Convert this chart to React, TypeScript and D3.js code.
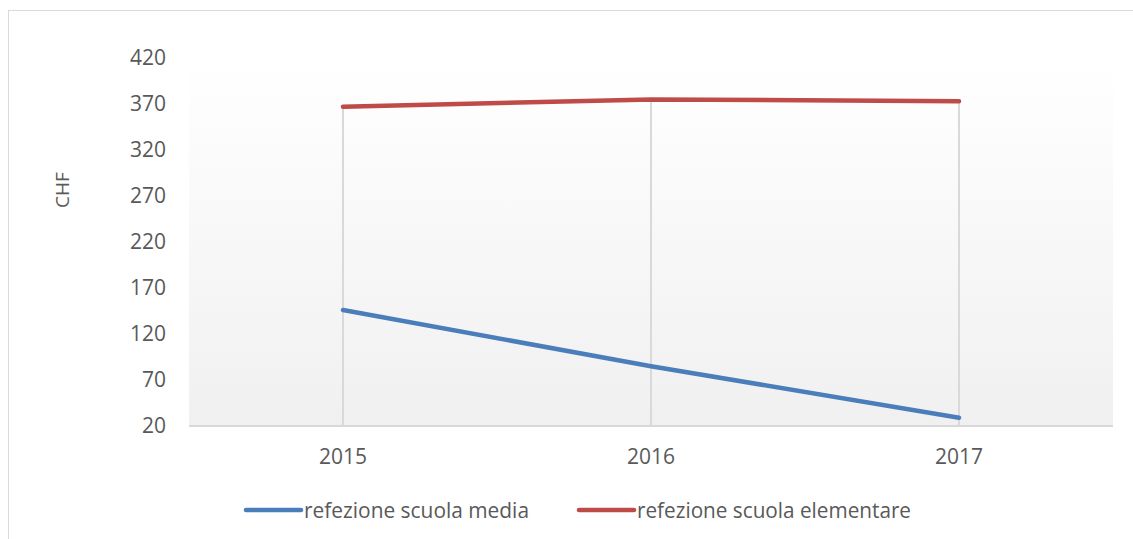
import React, { useRef, useEffect } from 'react';
import * as d3 from 'd3';

const years = ['2015', '2016', '2017'];
const media = [146, 85, 29];
const elementare = [367, 375, 373];
const yTicks = [20, 70, 120, 170, 220, 270, 320, 370, 420];
const seriesNames = ['refezione scuola media', 'refezione scuola elementare'];

const App = () => {
    const svgRef = useRef<SVGSVGElement>(null);

    useEffect(() => {
        document.body.style.margin = '0';
        const svg = d3.select(svgRef.current);
        svg.selectAll('*').remove();

        const W = 1133, H = 539;
        const left = 189, right = 1113, top = 58, bottom = 426;
        const font = 'Open Sans, sans-serif';

        svg.attr('width', W).attr('height', H).style('display', 'block');

        const defs = svg.append('defs');
        const grad = defs.append('linearGradient').attr('id', 'bg').attr('x1', 0).attr('y1', 0).attr('x2', 0).attr('y2', 1);
        grad.append('stop').attr('offset', '0%').attr('stop-color', '#ffffff');
        grad.append('stop').attr('offset', '100%').attr('stop-color', '#f0f0f0');

        // outer frame (runs off the right/bottom)
        svg.append('rect')
            .attr('x', 8.5).attr('y', 10.5).attr('width', 1140).attr('height', 540)
            .attr('fill', '#fff').attr('stroke', '#d9d9d9');

        const x = d3.scaleBand().domain(years).range([left, right]);
        const y = d3.scaleLinear().domain([20, 420]).range([bottom, top]);
        const cx = (d: string) => (x(d) as number) + x.bandwidth() / 2;

        svg.append('rect')
            .attr('x', left).attr('y', top).attr('width', right - left).attr('height', bottom - top)
            .attr('fill', 'url(#bg)');

        // drop lines
        svg.selectAll('.drop').data(years).enter().append('line')
            .attr('x1', d => cx(d)).attr('x2', d => cx(d))
            .attr('y1', (d, i) => y(Math.max(media[i], elementare[i])))
            .attr('y2', bottom)
            .attr('stroke', '#d9d9d9').attr('stroke-width', 2);

        svg.append('line')
            .attr('x1', left).attr('x2', right).attr('y1', bottom).attr('y2', bottom)
            .attr('stroke', '#d9d9d9').attr('stroke-width', 2);

        svg.selectAll('.yt').data(yTicks).enter().append('text')
            .attr('x', 166).attr('y', d => y(d)).attr('dy', '0.35em')
            .attr('text-anchor', 'end').attr('fill', '#595959')
            .style('font-family', font).style('font-size', '21px')
            .text(d => d);

        svg.selectAll('.xt').data(years).enter().append('text')
            .attr('x', d => cx(d)).attr('y', 457).attr('dy', '0.35em')
            .attr('text-anchor', 'middle').attr('fill', '#595959')
            .style('font-family', font).style('font-size', '21px')
            .text(d => d);

        svg.append('text')
            .attr('transform', 'translate(62,190) rotate(-90)')
            .attr('dy', '0.35em').attr('text-anchor', 'middle').attr('fill', '#595959')
            .style('font-family', font).style('font-size', '19px')
            .text('CHF');

        const line = d3.line<number>().x((d, i) => cx(years[i])).y(d => y(d));
        const series = [
            { name: seriesNames[0], values: media, color: '#4a7ebb' },
            { name: seriesNames[1], values: elementare, color: '#be4b48' },
        ];
        series.forEach(s => {
            svg.append('path').datum(s.values).attr('d', line)
                .attr('fill', 'none').attr('stroke', s.color).attr('stroke-width', 4.5)
                .attr('stroke-linecap', 'round').attr('stroke-linejoin', 'round');
        });

        const legendX = [246, 579];
        const legendW = [225, 274];
        series.forEach((s, i) => {
            svg.append('line')
                .attr('x1', legendX[i]).attr('x2', legendX[i] + 55).attr('y1', 510).attr('y2', 510)
                .attr('stroke', s.color).attr('stroke-width', 4.5).attr('stroke-linecap', 'round');
            svg.append('text')
                .attr('x', legendX[i] + 58).attr('y', 510).attr('dy', '0.35em')
                .attr('fill', '#595959')
                .attr('textLength', legendW[i]).attr('lengthAdjust', 'spacingAndGlyphs')
                .style('font-family', font).style('font-size', '22px')
                .text(s.name);
        });
    }, []);

    return <svg ref={svgRef}></svg>;
};

export default App;
